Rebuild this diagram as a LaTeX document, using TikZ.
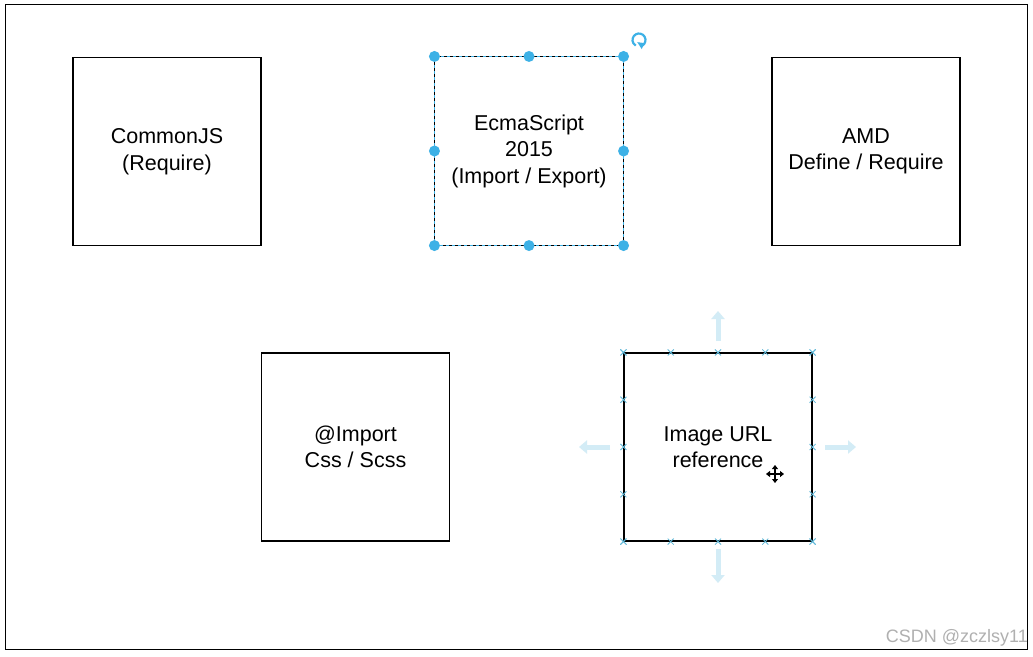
\documentclass[tikz,border=0pt]{standalone}
\usepackage{fontspec}
\setmainfont{Liberation Sans}
\usetikzlibrary{arrows.meta,calc}
\definecolor{handle}{HTML}{3DB1E6}
\definecolor{ghost}{HTML}{D3ECF6}
\definecolor{mark}{HTML}{5FB8D8}
\definecolor{wm}{HTML}{B0B0B0}
\tikzset{
  card/.style={draw=black, line width=1.1pt, minimum width=188pt, minimum height=188pt,
    inner sep=0pt, align=center, font=\fontsize{21.5}{26.5}\selectfont},
  grip/.style={fill=handle, circle, inner sep=0pt, minimum size=11pt},
  xmark/.style={draw=mark, line width=0.8pt},
  ghostarrow/.style={ghost, line width=5pt, -{Triangle[width=13pt,length=8pt]}},
}
\begin{document}
\begin{tikzpicture}[x=1pt,y=-1pt]
\useasboundingbox (0,0) rectangle (1033,656);
\fill[white] (0,0) rectangle (1033,656);
% canvas frame
\draw[line width=1pt] (5,4) rectangle (1027,649);

% modules
\node[card] (cjs) at (167,151.5) {CommonJS\\(Require)};
\node[card, draw=none] (es) at (529,151) {EcmaScript\\2015\\(Import / Export)};
\node[card] (amd) at (866,151.5) {AMD\\Define / Require};
\node[card] (css) at (355.5,447) {@Import\\Css / Scss};
\node[card] (img) at (718,447) {Image URL\\reference};

% selection frame with handles
\draw[handle, line width=1pt] (es.north west) rectangle (es.south east);
\draw[black, line width=0.8pt, dash pattern=on 3pt off 3pt] (es.north west) rectangle (es.south east);
\foreach \a in {north west,north,north east,east,south east,south,south west,west}
  \node[grip] at (es.\a) {};
% rotate handle
\coordinate (rot) at (639,40);
\draw[handle, line width=2.2pt] ([shift={(60:6.5)}]rot) arc[start angle=60, end angle=-240, radius=6.5];
\fill[handle] ([shift={(60:6.5)}]rot) ++(-5,-3.5) -- ++(7,1) -- ++(-2.5,6) -- cycle;

% connection points on the hovered shape
\foreach \t in {0,0.25,0.5,0.75,1} {
  \foreach \p/\q in {north west/north east, south west/south east, north west/south west, north east/south east} {
    \path ($(img.\p)!\t!(img.\q)$) coordinate (c);
    \draw[xmark] ([shift={(-3,-3)}]c) -- ([shift={(3,3)}]c)
                 ([shift={(-3,3)}]c) -- ([shift={(3,-3)}]c);
  }
}

% faint clone arrows
\coordinate (au) at (718,311);
\coordinate (ad) at (718,583);
\coordinate (al) at (579,447);
\coordinate (ar) at (856,447);
\draw[ghostarrow] (718,341) -- (au);
\draw[ghostarrow] (718,549) -- (ad);
\draw[ghostarrow] (610,447) -- (al);
\draw[ghostarrow] (825,447) -- (ar);

% move cursor
\coordinate (cur) at (775,474);
\draw[white, line width=3pt] ([xshift=-9pt]cur) -- ([xshift=9pt]cur) ([yshift=-9pt]cur) -- ([yshift=9pt]cur);
\draw[black, line width=1.6pt, {Triangle[width=6pt,length=4pt]}-{Triangle[width=6pt,length=4pt]}]
  ([xshift=-9pt]cur) -- ([xshift=9pt]cur);
\draw[black, line width=1.6pt, {Triangle[width=6pt,length=4pt]}-{Triangle[width=6pt,length=4pt]}]
  ([yshift=-9pt]cur) -- ([yshift=9pt]cur);

% watermark
\node[anchor=east, text=wm, font=\fontsize{18}{20}\selectfont, inner sep=0pt] (wmk) at (1028,638) {CSDN @zczlsy11};
\end{tikzpicture}
\end{document}
